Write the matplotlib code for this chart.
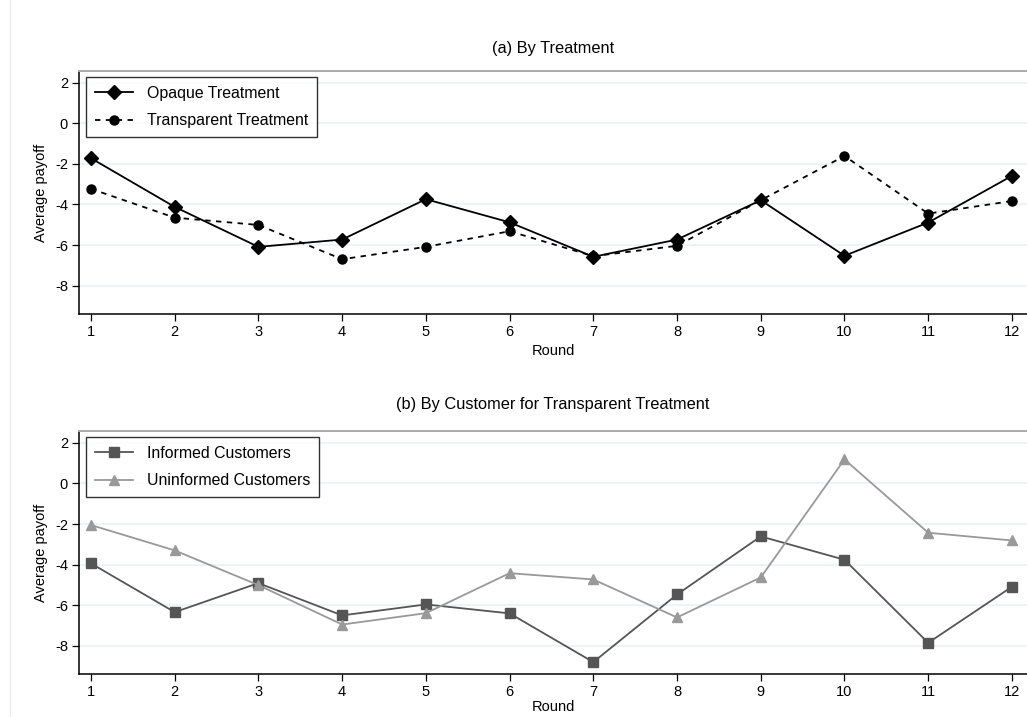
import matplotlib
matplotlib.use("Agg")
import matplotlib.pyplot as plt
from matplotlib.lines import Line2D

plt.rcParams["font.family"] = ["Liberation Sans", "DejaVu Sans"]
plt.rcParams["axes.unicode_minus"] = False

rounds = list(range(1, 13))

# panel (a): average payoff per round by treatment
opaque = [-1.72, -4.12, -6.09, -5.73, -3.74, -4.88, -6.58, -5.73, -3.79, -6.53, -4.89, -2.59]
transparent = [-3.23, -4.65, -5.01, -6.70, -6.09, -5.32, -6.55, -6.04, -3.79, -1.61, -4.45, -3.83]

# panel (b): transparent treatment split by customer type
informed = [-3.94, -6.34, -4.91, -6.50, -5.96, -6.40, -8.80, -5.47, -2.61, -3.76, -7.85, -5.09]
uninformed = [-2.05, -3.30, -5.01, -6.95, -6.39, -4.42, -4.73, -6.60, -4.63, 1.18, -2.43, -2.81]

yticks = [2, 0, -2, -4, -6, -8]

W, H = 1027, 717
fig = plt.figure(figsize=(W / 100, H / 100), dpi=100)
fig.patch.set_facecolor("white")

# faint page border on the left
fig.add_artist(Line2D([10 / W, 10 / W], [0, 1], color="#eeeeee", lw=1))


def style_axes(ax):
    ax.set_xlim(0.857, 12.18)
    ax.set_ylim(-9.4, 2.58)
    ax.set_xticks(rounds)
    ax.set_yticks(yticks)
    ax.grid(axis="y", color="#eaf2f3", lw=1.2)
    ax.set_axisbelow(True)
    ax.spines["right"].set_visible(False)
    ax.spines["top"].set_color("#aaaaaa")
    ax.spines["top"].set_linewidth(1.4)
    ax.spines["left"].set_linewidth(1.1)
    ax.spines["bottom"].set_linewidth(1.1)
    ax.tick_params(labelsize=10.5, length=5, width=0.9, direction="out", pad=3)
    ax.set_ylabel("Average payoff", fontsize=10.5, labelpad=5)


def add_legend(ax):
    leg = ax.legend(loc="upper left", bbox_to_anchor=(0.0074, 0.975), borderaxespad=0,
                    frameon=True, fancybox=False, fontsize=11.4, handlelength=2.4,
                    handletextpad=0.9, labelspacing=0.8, borderpad=0.55)
    leg.get_frame().set_edgecolor("black")
    leg.get_frame().set_linewidth(1.0)


ax1 = fig.add_axes([79 / W, 1 - 314 / H, 1 - 79 / W, (314 - 71) / H])
ax1.plot(rounds, opaque, color="black", lw=1.3, marker="D", ms=7, label="Opaque Treatment")
ax1.plot(rounds, transparent, color="black", lw=1.3, ls=(0, (3, 3)), marker="o", ms=6.5,
         label="Transparent Treatment")
style_axes(ax1)
add_legend(ax1)
fig.text(553 / W, 1 - 48 / H, "(a) By Treatment", ha="center", va="center", fontsize=11.8)
fig.text(553 / W, 1 - 351 / H, "Round", ha="center", va="center", fontsize=10.5)

ax2 = fig.add_axes([79 / W, 1 - 674.3 / H, 1 - 79 / W, (674.3 - 431) / H])
ax2.plot(rounds, informed, color="#555555", lw=1.3, marker="s", ms=6.5, label="Informed Customers")
ax2.plot(rounds, uninformed, color="#999999", lw=1.3, marker="^", ms=7.5, label="Uninformed Customers")
style_axes(ax2)
add_legend(ax2)
fig.text(553 / W, 1 - 405 / H, "(b) By Customer for Transparent Treatment", ha="center",
         va="center", fontsize=11.8)
fig.text(553 / W, 1 - 707 / H, "Round", ha="center", va="center", fontsize=10.5)

fig.savefig("out.png", dpi=100)
